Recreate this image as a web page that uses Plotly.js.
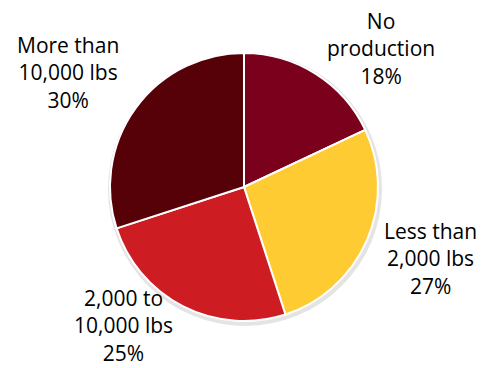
<!DOCTYPE html>
<html>
<head>
<meta charset="utf-8">
<script src="https://cdn.plot.ly/plotly-3.0.1.min.js"></script>
<style>html,body{margin:0;padding:0;background:#fff}#chart{width:481px;height:368px}</style>
</head>
<body>
<div id="chart"></div>
<script>
const categories = ["No<br>production", "Less than<br>2,000 lbs", "2,000 to<br>10,000 lbs", "More than<br>10,000 lbs"];
const shares = [18, 27, 25, 30];
const colors = ["#7A001C", "#FFCB33", "#CE1C23", "#560008"];

const W = 481, H = 368;
const cx = 244, cy = 187, r = 134;
function dom(cxp, cyp, rp) {
  return {
    x: [(cxp - rp) / W, (cxp + rp) / W],
    y: [(H - cyp - rp) / H, (H - cyp + rp) / H]
  };
}
// label anchor points (pixels) — layout only
const labelPos = [[381, 49], [430, 258], [123, 325], [68, 72]];

const shadow = {
  type: "pie", values: [1], labels: ["shadow"], textinfo: "none", hoverinfo: "skip",
  marker: { colors: ["#e4e4e4"], line: { width: 0 } },
  domain: dom(cx + 1, cy + 2, r + 3), showlegend: false, sort: false
};
const pie = {
  type: "pie", values: shares, labels: categories, sort: false,
  direction: "clockwise", rotation: 0, textinfo: "none",
  marker: { colors: colors, line: { color: "#ffffff", width: 2 } },
  domain: dom(cx, cy, r), showlegend: false
};

const annotations = categories.map((c, i) => ({
  xref: "paper", yref: "paper",
  x: labelPos[i][0] / W, y: 1 - labelPos[i][1] / H,
  xanchor: "center", yanchor: "middle",
  text: c + "<br>" + shares[i] + "%",
  showarrow: false, align: "center",
  font: { family: "Open Sans", size: 21, color: "#000000" }
}));

Plotly.newPlot("chart", [shadow, pie], {
  width: W, height: H,
  margin: { l: 0, r: 0, t: 0, b: 0 },
  paper_bgcolor: "#ffffff",
  showlegend: false,
  annotations: annotations
}, { displayModeBar: false, staticPlot: true });
</script>
</body>
</html>
